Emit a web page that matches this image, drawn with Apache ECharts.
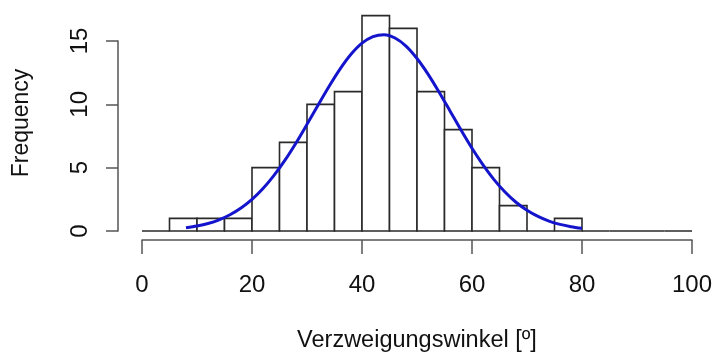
<!DOCTYPE html>
<html>
<head>
<meta charset="utf-8">
<script src="https://cdn.jsdelivr.net/npm/echarts@6/dist/echarts.min.js"></script>
<style>
  html, body { margin: 0; padding: 0; background: #ffffff; }
  #chart { width: 714px; height: 353px; }
</style>
</head>
<body>
<div id="chart"></div>
<script>
// Histogram bin edges (width 5) and counts per bin
var binBreaks = [0, 5, 10, 15, 20, 25, 30, 35, 40, 45, 50, 55, 60, 65, 70, 75, 80, 85, 90, 95, 100];
var binCounts = [0, 1, 1, 1, 5, 7, 10, 11, 17, 16, 11, 8, 5, 2, 0, 1, 0, 0, 0, 0];

// Fitted normal curve, scaled to frequency
var curveX = [8, 10, 12, 14, 16, 18, 20, 22, 24, 26, 28, 30, 32, 34, 36, 38, 40, 42, 44,
              46, 48, 50, 52, 54, 56, 58, 60, 62, 64, 66, 68, 70, 72, 74, 76, 78, 80];
var curveY = [0.25, 0.39, 0.59, 0.88, 1.28, 1.81, 2.49, 3.35, 4.39, 5.59, 6.95, 8.42, 9.93,
              11.41, 12.78, 13.95, 14.83, 15.35, 15.50, 15.24, 14.60, 13.62, 12.39, 10.98,
              9.48, 7.97, 6.53, 5.22, 4.06, 3.08, 2.27, 1.64, 1.15, 0.78, 0.52, 0.34, 0.21];

// Axis ticks
var xTicks = { min: 0, max: 100, step: 20 };
var yTicks = { min: 0, max: 15, step: 5 };

var barData = binCounts.map(function (c, i) {
  return [binBreaks[i], binBreaks[i + 1], c];
});
var lineData = curveX.map(function (x, i) { return [x, curveY[i]]; });

var FONT = '"Liberation Sans", Arial, Helvetica, sans-serif';
var AXIS_COLOR = '#555555';
var TEXT_COLOR = '#111111';

var chart = echarts.init(document.getElementById('chart'), null, { renderer: 'canvas' });

chart.setOption({
  animation: false,
  backgroundColor: '#ffffff',
  grid: {
    left: 142, right: 22, top: 41, bottom: 122,
    containLabel: false,
    outerBoundsMode: 'none'
  },
  xAxis: {
    type: 'value',
    min: xTicks.min, max: xTicks.max, interval: xTicks.step,
    offset: 9,
    axisLine: { show: true, onZero: false, lineStyle: { color: AXIS_COLOR, width: 1.5 } },
    axisTick: { show: true, length: 14, lineStyle: { color: AXIS_COLOR, width: 1.5 } },
    axisLabel: { margin: 33, fontSize: 24, fontFamily: FONT, color: TEXT_COLOR },
    splitLine: { show: false },
    name: 'Verzweigungswinkel [º]',
    nameLocation: 'middle',
    nameGap: 89,
    nameTextStyle: { fontSize: 23.5, fontFamily: FONT, color: TEXT_COLOR }
  },
  yAxis: {
    type: 'value',
    min: yTicks.min, max: yTicks.max, interval: yTicks.step,
    offset: 24,
    axisLine: { show: true, onZero: false, lineStyle: { color: AXIS_COLOR, width: 1.5 } },
    axisTick: { show: true, length: 12, lineStyle: { color: AXIS_COLOR, width: 1.5 } },
    axisLabel: { rotate: 90, margin: 26, fontSize: 24, fontFamily: FONT, color: TEXT_COLOR },
    splitLine: { show: false }
  },
  graphic: [{
    type: 'text',
    x: 22, y: 123,
    rotation: Math.PI / 2,
    style: {
      text: 'Frequency',
      fontSize: 23,
      fontFamily: FONT,
      fill: TEXT_COLOR,
      textAlign: 'center',
      textVerticalAlign: 'middle'
    }
  }],
  series: [
    {
      type: 'custom',
      clip: false,
      data: barData,
      renderItem: function (params, api) {
        var p0 = api.coord([api.value(0), api.value(2)]);
        var p1 = api.coord([api.value(1), 0]);
        return {
          type: 'rect',
          shape: { x: p0[0], y: p0[1], width: p1[0] - p0[0], height: p1[1] - p0[1] },
          style: { fill: '#ffffff', stroke: '#2a2a2a', lineWidth: 1.6 }
        };
      },
      z: 1
    },
    {
      type: 'line',
      data: lineData,
      smooth: 0.3,
      clip: false,
      showSymbol: false,
      symbol: 'none',
      lineStyle: { color: '#1414cc', width: 3 },
      z: 2
    }
  ]
});
</script>
</body>
</html>
